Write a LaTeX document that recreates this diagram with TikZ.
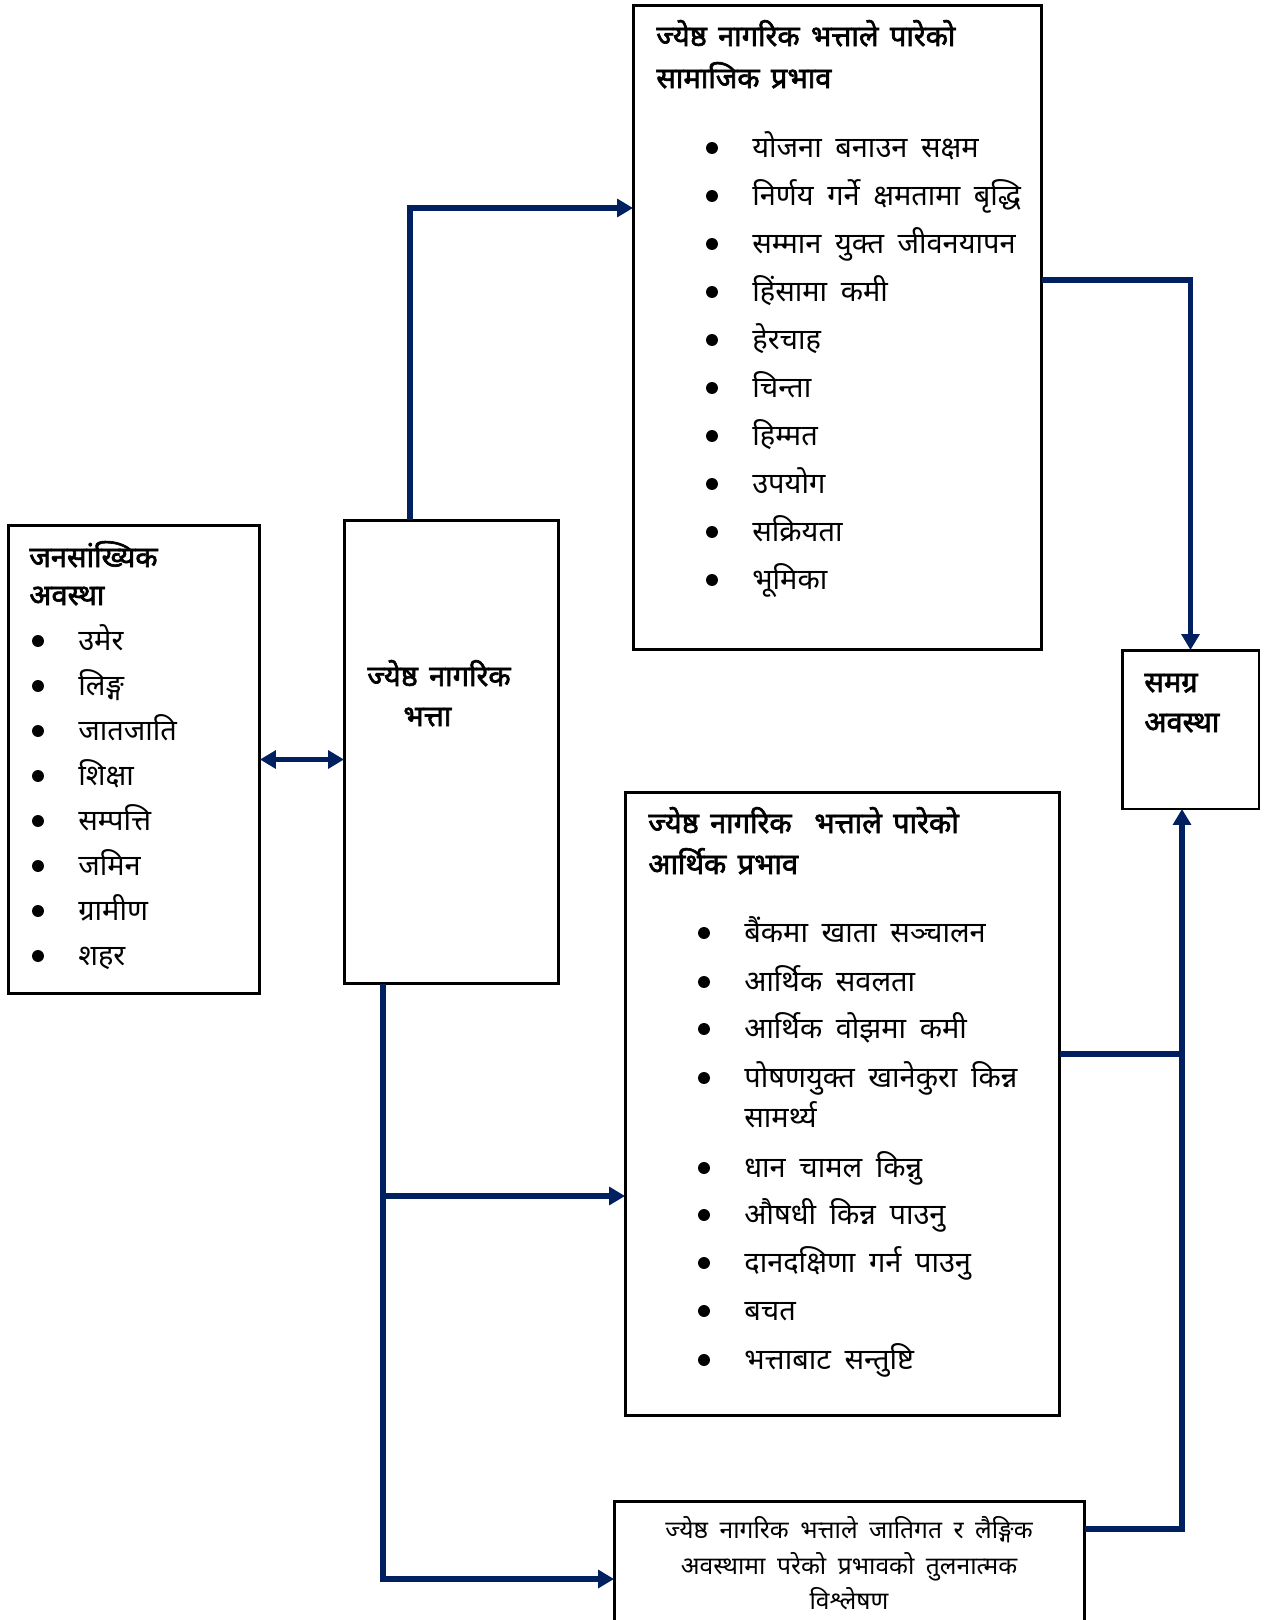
\documentclass[tikz,border=0pt]{standalone}
\usepackage{fontspec}
\newfontfamily\dev[Script=Devanagari,WordSpace=1.8]{Noto Sans}
\newfontfamily\devb[Script=Devanagari,FakeBold=2.2,WordSpace=1.5]{Noto Sans}
\usetikzlibrary{arrows.meta,calc}
\definecolor{navy}{RGB}{0,32,96}
\tikzset{
	box/.style={draw, line width=1.7pt, inner sep=0pt, outer sep=0pt},
	link/.style={draw=navy, line width=2.9pt},
	tip/.style={-{Triangle[length=9pt,width=10pt]}},
	head/.style={anchor=base west, inner sep=0pt, font=\devb\fontsize{16.5}{19}\selectfont},
	item/.style={anchor=base west, inner sep=0pt, font=\dev\fontsize{16.5}{19}\selectfont},
	small/.style={anchor=base, inner sep=0pt, font=\dev\fontsize{14}{16}\selectfont},
}

\begin{document}
\begin{tikzpicture}[x=0.02cm,y=-0.02cm]
	\useasboundingbox (0,0) rectangle (1271,1620);

	%boxes
	\node[box, minimum width=5.04cm, minimum height=9.38cm] (demo) at (134,759.5) {};
	\node[box, minimum width=4.30cm, minimum height=9.28cm] (allow) at (451.5,752) {};
	\node[box, minimum width=8.18cm, minimum height=12.9cm] (social) at (837.5,327.5) {};
	\node[box, minimum width=8.70cm, minimum height=12.48cm] (econ) at (842.5,1104) {};
	\node[box, minimum width=2.74cm, minimum height=3.18cm] (overall) at (1190.5,729.5) {};
	\node[box, minimum width=9.42cm, minimum height=3.18cm] (bottom) at (849.5,1580.5) {};

	%demographic
	\node[head] (demoh1) at (29,567) {जनसांख्यिक};
	\node[head] (demoh2) at (29,605) {अवस्था};
	\foreach \t [count=\i] in {उमेर, लिङ्ग, जातजाति, शिक्षा, सम्पत्ति, जमिन, ग्रामीण, शहर} {
		\fill (38,641+45*\i-45) circle (3.4pt);
		\node[item] (d\i) at (78,650+45*\i-45) {\t};
	}

	%allowance
	\node[head] (allowh1) at (367,686) {ज्येष्ठ नागरिक};
	\node[head] (allowh2) at (403,726) {भत्ता};

	%social
	\node[head] (socialh1) at (656,46) {ज्येष्ठ नागरिक भत्ताले पारेको};
	\node[head] (socialh2) at (656,88) {सामाजिक प्रभाव};
	\foreach \t [count=\i] in {योजना बनाउन सक्षम, निर्णय गर्ने क्षमतामा बृद्धि, सम्मान युक्त जीवनयापन, हिंसामा कमी, हेरचाह, चिन्ता, हिम्मत, उपयोग, सक्रियता, भूमिका} {
		\fill (712,148+48*\i-48) circle (3.4pt);
		\node[item] (s\i) at (752,157+48*\i-48) {\t};
	}

	%economic
	\node[head] (econh1) at (648,833) {ज्येष्ठ नागरिक \ भत्ताले पारेको};
	\node[head] (econh2) at (648,874) {आर्थिक प्रभाव};
	\foreach \y/\t [count=\i] in {942/बैंकमा खाता सञ्चालन, 991/आर्थिक सवलता, 1038/आर्थिक वोझमा कमी, 1087/पोषणयुक्त खानेकुरा किन्न, 1177/धान चामल किन्नु, 1224/औषधी किन्न पाउनु, 1272/दानदक्षिणा गर्न पाउनु, 1320/बचत, 1369/भत्ताबाट सन्तुष्टि} {
		\fill (704,\y-9) circle (3.4pt);
		\node[item] (e\i) at (744,\y) {\t};
	}
	\node[item] (e4b) at (744,1127) {सामर्थ्य};

	%overall
	\node[head] (overallh1) at (1144,692) {समग्र};
	\node[head] (overallh2) at (1144,732) {अवस्था};

	%comparison
	\node[small] (bottom1) at (849,1538) {ज्येष्ठ नागरिक भत्ताले जातिगत र लैङ्गिक};
	\node[small] (bottom2) at (849,1574) {अवस्थामा परेको प्रभावको तुलनात्मक};
	\node[small] (bottom3) at (849,1609) {विश्लेषण};

	%connectors
	\coordinate (up) at (410,208);
	\coordinate (sr) at (1188,280);
	\coordinate (cm) at (383,1196);
	\coordinate (cb) at (383,1579);
	\coordinate (er) at (1182,1054);
	\draw[link, {Triangle[length=9pt,width=10pt]}-{Triangle[length=9pt,width=10pt]}] (demo.east) -- (allow.west |- demo.east);
	\draw[link, tip] (allow.north -| up) |- (social.west |- up);
	\draw[link, tip] (social.east |- sr) -| (overall.north);
	\draw[link, tip] (allow.south -| cb) |- (bottom.west |- cb);
	\draw[link, tip] (cm) -- (econ.west |- cm);
	\draw[link, tip] (econ.east |- er) -| (overall.south -| er);
	\draw[link] (bottom.east |- 0,1529) -| (er);
\end{tikzpicture}
\end{document}
